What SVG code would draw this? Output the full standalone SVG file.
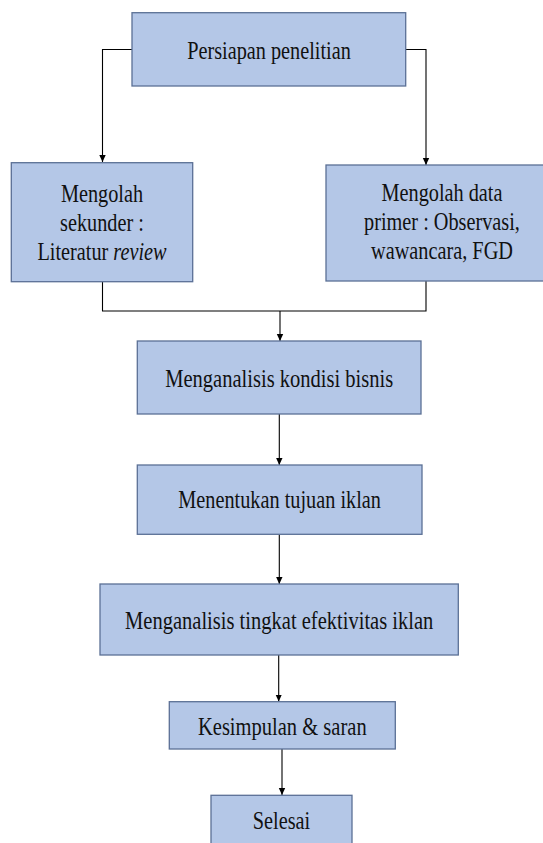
<svg xmlns="http://www.w3.org/2000/svg" width="543" height="843" viewBox="0 0 543 843">
<style>
.box{fill:#b4c7e7;stroke:#5b7095;stroke-width:1.3}
text{font-family:'Liberation Serif','Times New Roman',serif;font-size:26px;fill:#111;text-anchor:middle}
.c{fill:none;stroke:#000;stroke-width:1.1}
</style>
<defs>
<marker id="ah" markerWidth="8" markerHeight="8" refX="7" refY="4" orient="auto" markerUnits="userSpaceOnUse">
<path d="M0,0.8 L7,4 L0,7.2 Z" fill="#000"/>
</marker>
</defs>
<rect width="543" height="843" fill="#fff"/>
<g id="connectors">
<path class="c" d="M132,49.5 H102.5 V162" marker-end="url(#ah)"/>
<path class="c" d="M405.7,49.5 H426 V165" marker-end="url(#ah)" stroke="#444"/>
<path class="c" d="M102.5,282 V311 H426 V281"/>
<path class="c" d="M280,311 V341" marker-end="url(#ah)"/>
<path class="c" d="M279.3,414 V465" marker-end="url(#ah)"/>
<path class="c" d="M279.3,534.3 V584" marker-end="url(#ah)"/>
<path class="c" d="M278.7,655 V701.5" marker-end="url(#ah)"/>
<path class="c" d="M282,749 V795" marker-end="url(#ah)" stroke="#555"/>
</g>
<g font-family="Liberation Serif, serif">
<g id="n1">
<rect class="box" x="132" y="12.7" width="273.7" height="73.3"/>
<text font-family="Liberation Serif" transform="translate(269,59.3) scale(0.78,1)">Persiapan penelitian</text>
</g>
<g id="n2">
<rect class="box" x="11.3" y="162.7" width="181.4" height="119"/>
<text font-family="Liberation Serif" transform="translate(102,201.7) scale(0.78,1)">Mengolah</text>
<text font-family="Liberation Serif" transform="translate(102,230.7) scale(0.78,1)">sekunder :</text>
<text font-family="Liberation Serif" transform="translate(102,260) scale(0.78,1)">Literatur <tspan font-style="italic">review</tspan></text>
</g>
<g id="n3">
<rect class="box" x="326" y="165" width="236" height="116"/>
<text font-family="Liberation Serif" transform="translate(442,200.7) scale(0.78,1)">Mengolah data</text>
<text font-family="Liberation Serif" transform="translate(442,230) scale(0.78,1)">primer : Observasi,</text>
<text font-family="Liberation Serif" transform="translate(442,259.3) scale(0.78,1)">wawancara, FGD</text>
</g>
<g id="n4">
<rect class="box" x="137.3" y="341" width="283.7" height="73"/>
<text font-family="Liberation Serif" transform="translate(279.2,387.3) scale(0.79,1)">Menganalisis kondisi bisnis</text>
</g>
<g id="n5">
<rect class="box" x="137.3" y="465" width="284.7" height="69.3"/>
<text font-family="Liberation Serif" transform="translate(279.6,508.3) scale(0.78,1)">Menentukan tujuan iklan</text>
</g>
<g id="n6">
<rect class="box" x="100" y="584" width="358.3" height="71"/>
<text font-family="Liberation Serif" transform="translate(279.2,629.3) scale(0.79,1)">Menganalisis tingkat efektivitas iklan</text>
</g>
<g id="n7">
<rect class="box" x="169.3" y="701.7" width="226" height="47.3"/>
<text font-family="Liberation Serif" transform="translate(282.3,735) scale(0.79,1)">Kesimpulan &amp; saran</text>
</g>
<g id="n8">
<rect class="box" x="211" y="795.3" width="141" height="60"/>
<text font-family="Liberation Serif" transform="translate(281.5,829) scale(0.78,1)">Selesai</text>
</g>
</g>
</svg>
